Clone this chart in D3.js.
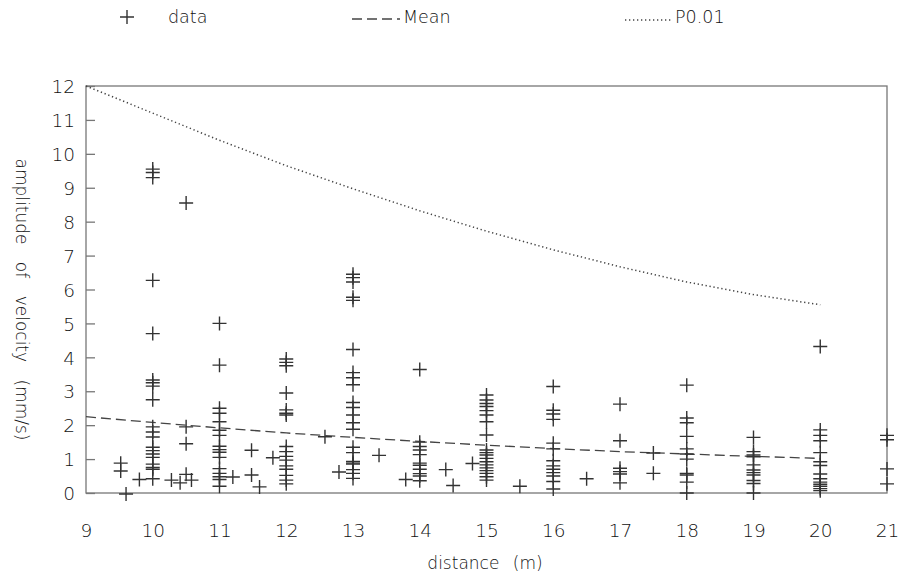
<!DOCTYPE html>
<html>
<head>
<meta charset="utf-8">
<script src="https://cdn.jsdelivr.net/npm/d3@7/dist/d3.min.js"></script>
<style>
  html, body { margin: 0; padding: 0; background: #fff; }
  svg { display: block; }
  text { font-family: "DejaVu Sans", "Liberation Sans", Arial, sans-serif; font-weight: 200; fill: #111; }
</style>
</head>
<body>
<svg id="chart" width="907" height="576"></svg>
<script>
// Measurements grouped by distance (m): amplitude of velocity (mm/s)
const columnDistance = [10, 11, 12, 13, 14, 15, 16, 17, 18, 19, 20, 21];
const columnAmplitude = [
  [9.55, 9.45, 9.3, 6.27, 4.7, 3.33, 3.25, 3.15, 2.75, 1.95, 1.8, 1.65, 1.35, 1.25, 1.15, 1.05, 0.85, 0.75, 0.7, 0.42],
  [5.0, 3.77, 2.5, 2.35, 2.1, 1.85, 1.7, 1.38, 1.28, 1.2, 1.05, 0.72, 0.58, 0.48, 0.4, 0.2],
  [3.95, 3.85, 3.75, 2.95, 2.45, 2.35, 2.3, 1.37, 1.22, 1.08, 0.97, 0.8, 0.7, 0.52, 0.38, 0.27],
  [6.45, 6.35, 6.22, 5.77, 5.68, 4.23, 3.55, 3.4, 3.19, 2.67, 2.52, 2.3, 2.07, 1.88, 1.35, 1.19, 0.93, 0.88, 0.85, 0.69, 0.58, 0.43],
  [3.64, 1.5, 1.37, 1.27, 1.13, 0.88, 0.82, 0.7, 0.57, 0.5, 0.36],
  [2.89, 2.74, 2.64, 2.55, 2.43, 2.3, 2.1, 1.71, 1.27, 1.19, 1.12, 1.02, 0.92, 0.83, 0.74, 0.66, 0.58, 0.48, 0.38],
  [3.14, 2.44, 2.33, 2.17, 1.47, 1.3, 0.95, 0.8, 0.7, 0.6, 0.5, 0.34, 0.12],
  [2.62, 1.54, 0.73, 0.63, 0.56, 0.3],
  [3.18, 2.21, 2.07, 1.67, 1.3, 1.15, 1.0, 0.58, 0.53, 0.32, 0.0],
  [1.64, 1.22, 1.12, 1.07, 0.83, 0.68, 0.6, 0.53, 0.37, 0.28, 0.0],
  [4.32, 1.86, 1.7, 1.54, 1.19, 0.92, 0.81, 0.56, 0.42, 0.32, 0.26, 0.2, 0.13, 0.07],
  [1.7, 1.57, 0.71, 0.27]
];

// Isolated measurements between the main distances
const looseDistance  = [9.52, 9.52, 9.6, 9.8, 10.28, 10.41, 10.5, 10.5, 10.5, 10.5, 10.58, 11.2, 11.48, 11.48, 11.6, 11.8, 12.58, 12.79, 13.39, 13.79, 14.39, 14.5, 14.79, 15.5, 16.5, 17.5, 17.5];
const looseAmplitude = [0.88, 0.65, -0.03, 0.4, 0.38, 0.3, 8.55, 1.95, 1.45, 0.55, 0.38, 0.47, 1.26, 0.53, 0.18, 1.04, 1.66, 0.62, 1.11, 0.4, 0.69, 0.22, 0.87, 0.2, 0.42, 1.18, 0.58];

// Fitted curves
const curveDistance = [9, 10, 11, 12, 13, 14, 15, 16, 17, 18, 19, 20];
const meanAmplitude = [2.25, 2.08, 1.92, 1.77, 1.64, 1.52, 1.41, 1.31, 1.22, 1.15, 1.08, 1.02];
const p001Amplitude = [12.0, 11.2, 10.4, 9.65, 8.97, 8.32, 7.72, 7.17, 6.67, 6.22, 5.85, 5.55];

const xTicks = [9, 10, 11, 12, 13, 14, 15, 16, 17, 18, 19, 20, 21];
const yTicks = [0, 1, 2, 3, 4, 5, 6, 7, 8, 9, 10, 11, 12];

const svg = d3.select("#chart");
const ink = "#333";
const frame = "#777";
const font = "DejaVu Sans, Liberation Sans, Arial, sans-serif";

const x = d3.scaleLinear().domain([9, 21]).range([86, 887]);
const y = d3.scaleLinear().domain([0, 12]).range([493, 86]);

// plot frame
svg.append("rect")
  .attr("x", x(9)).attr("y", y(12))
  .attr("width", x(21) - x(9)).attr("height", y(0) - y(12))
  .attr("fill", "none").attr("stroke", frame).attr("stroke-width", 1.3);

// y axis: inward ticks, labels on the left
const yAxis = d3.axisLeft(y).tickValues(yTicks).tickSize(-9).tickPadding(11).tickFormat(d3.format("d"));
const gy = svg.append("g").attr("transform", `translate(${x(9)},0)`).call(yAxis);
gy.select(".domain").remove();
gy.selectAll(".tick line").attr("stroke", frame).attr("stroke-width", 1.3);
gy.selectAll(".tick text").attr("font-size", 18.5).attr("fill", "#111")
  .attr("font-family", font).attr("font-weight", 200).attr("dy", "0.36em");

// x axis: labels only
const xAxis = d3.axisBottom(x).tickValues(xTicks).tickSize(0).tickPadding(31).tickFormat(d3.format("d"));
const gx = svg.append("g").attr("transform", `translate(0,${y(0)})`).call(xAxis);
gx.select(".domain").remove();
gx.selectAll(".tick text").attr("font-size", 18.5).attr("fill", "#111")
  .attr("font-family", font).attr("font-weight", 200);

// axis titles
svg.append("text")
  .attr("transform", `translate(16,${(y(0) + y(12)) / 2 + 10}) rotate(90)`)
  .attr("text-anchor", "middle").attr("font-size", 17).attr("word-spacing", 12)
  .text("amplitude of velocity (mm/s)");
svg.append("text")
  .attr("x", 485).attr("y", 569).attr("text-anchor", "middle")
  .attr("font-size", 17).attr("word-spacing", 8)
  .text("distance (m)");

// curves
const line = d3.line().x((d, i) => x(curveDistance[i])).y(d => y(d));
svg.append("path").datum(meanAmplitude).attr("d", line)
  .attr("fill", "none").attr("stroke", "#444").attr("stroke-width", 1.3)
  .attr("stroke-dasharray", "10,5");
svg.append("path").datum(p001Amplitude).attr("d", line)
  .attr("fill", "none").attr("stroke", "#444").attr("stroke-width", 1.5)
  .attr("stroke-dasharray", "1.3,2.7");

// data crosses
const points = [];
columnDistance.forEach((dx, i) => columnAmplitude[i].forEach(v => points.push([dx, v])));
looseDistance.forEach((dx, i) => points.push([dx, looseAmplitude[i]]));

const arm = 7;
const crossPath = (cx, cy) => `M${cx - arm},${cy}H${cx + arm}M${cx},${cy - arm}V${cy + arm}`;
svg.append("g").selectAll("path").data(points).join("path")
  .attr("d", d => crossPath(x(d[0]), y(d[1])))
  .attr("stroke", ink).attr("stroke-width", 1.4).attr("fill", "none");

// legend
const lg = svg.append("g");
lg.append("path").attr("d", crossPath(127, 17)).attr("stroke", ink).attr("stroke-width", 1.4);
lg.append("text").attr("x", 168).attr("y", 23).attr("font-size", 17.5).text("data");
lg.append("line").attr("x1", 352).attr("x2", 400).attr("y1", 19).attr("y2", 19)
  .attr("stroke", "#444").attr("stroke-width", 1.3).attr("stroke-dasharray", "10,5");
lg.append("text").attr("x", 403).attr("y", 23).attr("font-size", 17.5).text("Mean");
lg.append("line").attr("x1", 625).attr("x2", 672).attr("y1", 20).attr("y2", 20)
  .attr("stroke", "#444").attr("stroke-width", 1.5).attr("stroke-dasharray", "1.3,2.7");
lg.append("text").attr("x", 675).attr("y", 23).attr("font-size", 17.5).text("P0.01");
</script>
</body>
</html>
